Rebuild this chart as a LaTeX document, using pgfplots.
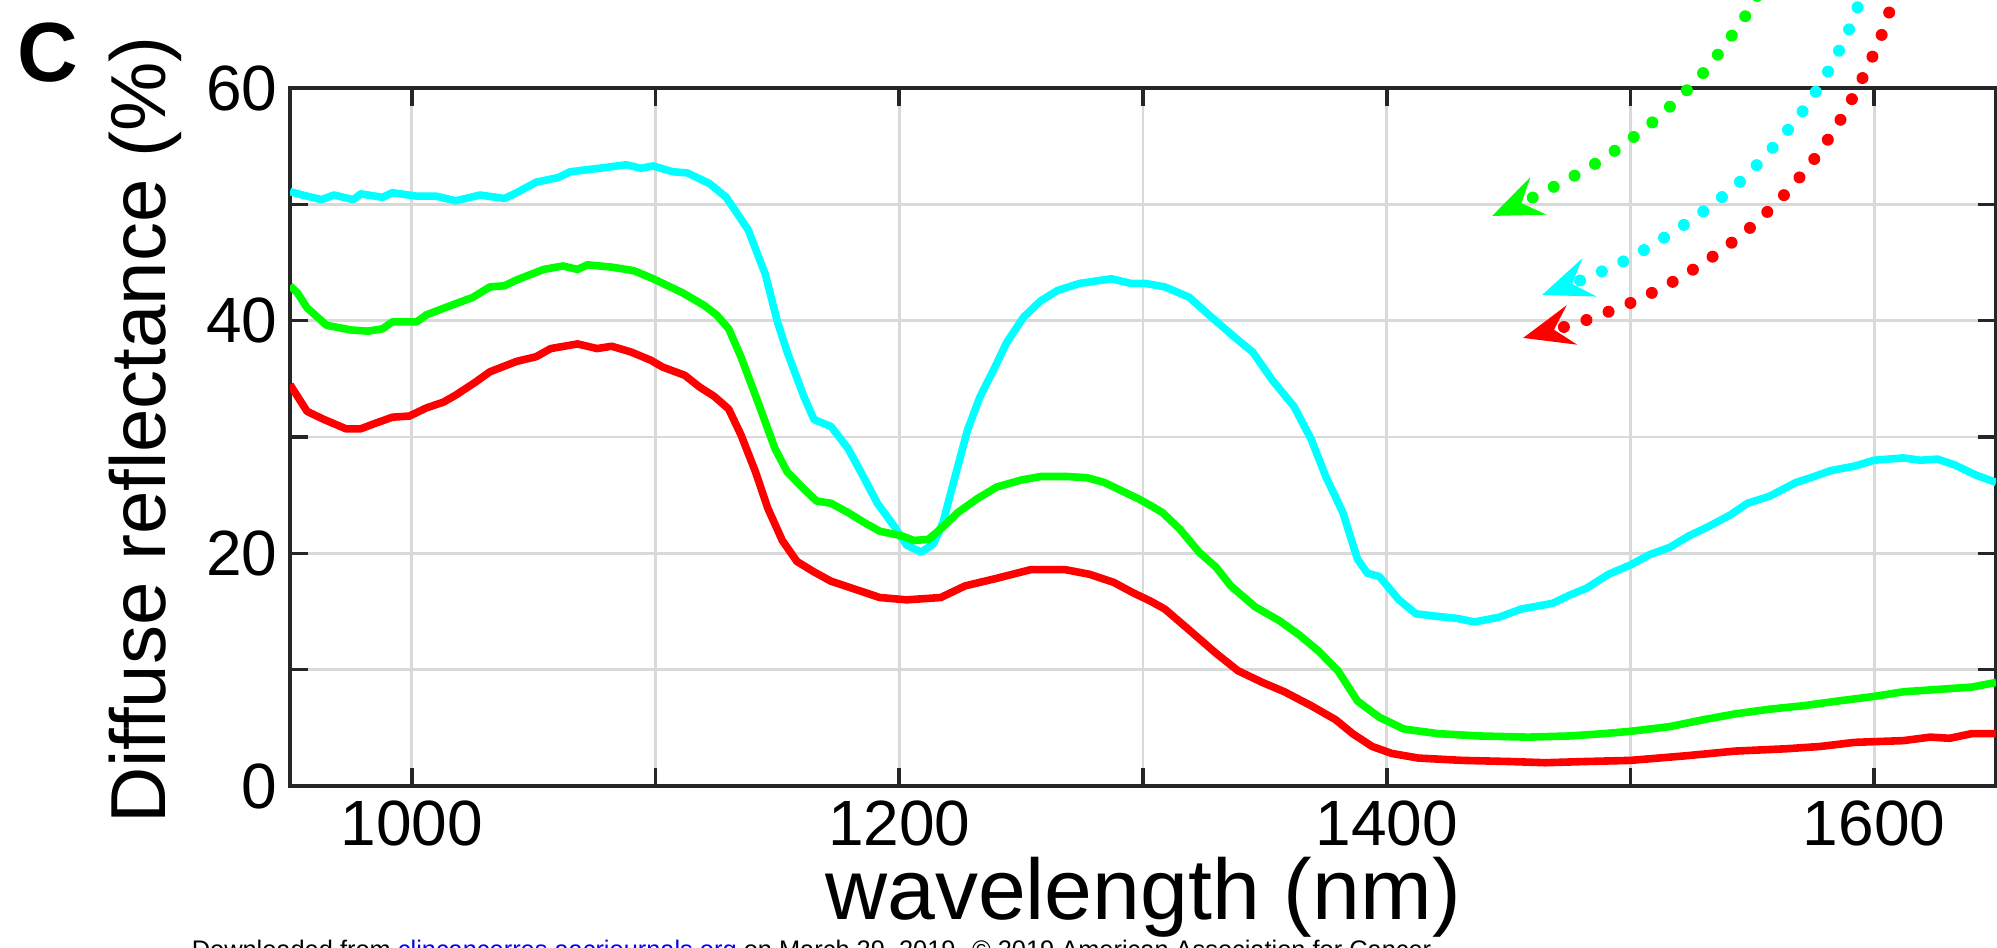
\documentclass[border=0pt]{standalone}
\usepackage{fontspec}
\setmainfont{Liberation Sans}
\usepackage{pgfplots}
\pgfplotsset{compat=1.18}
\usetikzlibrary{arrows.meta}
\definecolor{mcyan}{RGB}{0,255,255}
\definecolor{mgreen}{RGB}{0,255,0}
\definecolor{mred}{RGB}{255,0,0}
\definecolor{mblue}{RGB}{0,0,255}

\begin{document}
\begin{tikzpicture}
\useasboundingbox (-72.5pt,-40.5pt) rectangle (426.75pt,196.5pt);
\clip (-72.5pt,-40.5pt) rectangle (426.75pt,196.5pt);

% source line at the very bottom, cut by the page edge
\node[anchor=base west, inner sep=0pt, font=\fontsize{6.35}{6.35}\selectfont]
  at (-24.75pt,-43.25pt) {Downloaded from \textcolor{mblue}{clincancerres.aacrjournals.org} on March 29, 2019. © 2019 American Association for Cancer};

\begin{axis}[
    at={(0,0)}, anchor=south west,
    scale only axis,
    width=426.5pt, height=174.5pt,
    xmin=950, xmax=1650,
    ymin=0, ymax=60,
    xtick={1000,1100,...,1600},
    xticklabels={1000,,1200,,1400,,1600},
    ytick={0,10,...,60},
    yticklabels={0,,20,,40,,60},
    grid=major,
    major grid style={line width=0.7pt, color=black!15},
    axis line style={line width=0.8pt, color=black!85},
    major tick style={line width=0.9pt, color=black!85},
    major tick length=4.6pt,
    tick label style={font=\fontsize{16}{16}\selectfont},
    xticklabel style={inner sep=0pt, anchor=north, yshift=-3.5pt},
    yticklabel style={inner sep=0pt, anchor=east, xshift=-3pt},
    xlabel={wavelength (nm)},
    ylabel={Diffuse reflectance (\%)},
    xlabel style={at={(axis description cs:0.5,0)}, anchor=base, yshift=-33.5pt,
        inner sep=0pt, font=\fontsize{21.5}{21.5}\selectfont},
    ylabel style={at={(axis description cs:-0.0727,0.51)}, anchor=base,
        inner sep=0pt, font=\fontsize{19.5}{19.5}\selectfont},
    every axis plot/.append style={line width=1.9pt, line join=round},
]

% cyan
\addplot[color=mcyan] coordinates {
(950,51.1) (955,50.8) (963,50.4) (968,50.8) (976,50.4) (979,50.9) (988,50.6)
(992,51.0) (1002,50.7) (1010,50.7) (1018,50.3) (1028,50.8) (1038,50.5) (1043,51.0)
(1051,51.9) (1060,52.3) (1065,52.8) (1077,53.1) (1088,53.4) (1094,53.1) (1099,53.3)
(1107,52.8) (1113,52.7) (1122,51.8) (1129,50.6) (1138,47.8) (1145,44.0) (1150,39.9)
(1154,37.3) (1161,33.4) (1165,31.5) (1172,30.9) (1179,29.0) (1186,26.3) (1191,24.3)
(1198,22.3) (1203,20.7) (1209,20.1) (1214,20.8) (1218,22.7) (1222,25.9) (1228,30.6)
(1233,33.4) (1239,35.9) (1244,38.1) (1251,40.3) (1258,41.7) (1265,42.6) (1274,43.2)
(1287,43.6) (1295,43.2) (1301,43.2) (1309,42.9) (1319,42.0) (1327,40.5) (1338,38.5)
(1345,37.3) (1353,34.9) (1362,32.6) (1369,29.8) (1375,26.6) (1382,23.5) (1388,19.5)
(1392,18.3) (1397,18.0) (1405,16.0) (1412,14.8) (1420,14.6) (1429,14.4) (1436,14.1)
(1446,14.5) (1455,15.2) (1468,15.7) (1475,16.4) (1482,17.0) (1491,18.2) (1500,19.0)
(1508,19.9) (1516,20.5) (1524,21.5) (1532,22.3) (1541,23.3) (1548,24.3) (1557,24.9)
(1568,26.1) (1574,26.5) (1582,27.1) (1592,27.5) (1600,28.0) (1612,28.2) (1619,28.0)
(1626,28.1) (1633,27.6) (1642,26.7) (1650,26.1)
};

% green
\addplot[color=mgreen] coordinates {
(950,43.0) (953,42.4) (957,41.1) (965,39.6) (975,39.2) (982,39.1) (988,39.3)
(992,39.9) (1002,39.9) (1006,40.5) (1016,41.3) (1025,42.0) (1032,42.9) (1038,43.0)
(1043,43.5) (1054,44.4) (1062,44.7) (1068,44.4) (1072,44.8) (1082,44.6) (1091,44.3)
(1099,43.6) (1111,42.4) (1120,41.3) (1125,40.5) (1130,39.3) (1135,36.9) (1142,33.0)
(1149,29.0) (1154,27.0) (1161,25.5) (1166,24.5) (1172,24.3) (1179,23.5) (1186,22.6)
(1192,21.9) (1201,21.5) (1206,21.1) (1212,21.2) (1217,22.1) (1224,23.5) (1232,24.7)
(1240,25.7) (1250,26.3) (1258,26.6) (1269,26.6) (1277,26.5) (1284,26.1) (1292,25.3)
(1298,24.7) (1304,24.0) (1308,23.5) (1315,22.1) (1323,20.1) (1330,18.8) (1336,17.2)
(1346,15.4) (1356,14.2) (1364,13.0) (1372,11.6) (1380,9.9) (1388,7.3) (1397,5.9)
(1407,4.9) (1421,4.5) (1438,4.3) (1458,4.2) (1475,4.3) (1489,4.5) (1500,4.7)
(1516,5.1) (1530,5.7) (1543,6.2) (1557,6.6) (1571,6.9) (1585,7.3) (1600,7.7)
(1612,8.1) (1626,8.3) (1640,8.5) (1650,8.9)
};

% red
\addplot[color=mred] coordinates {
(950,34.5) (957,32.2) (964,31.5) (973,30.7) (979,30.7) (984,31.1) (992,31.7)
(999,31.8) (1006,32.5) (1013,33.0) (1018,33.6) (1026,34.7) (1032,35.6) (1043,36.5)
(1051,36.9) (1057,37.6) (1068,38.0) (1076,37.6) (1082,37.8) (1090,37.3) (1098,36.6)
(1103,36.0) (1112,35.3) (1118,34.3) (1124,33.5) (1130,32.4) (1135,30.2) (1141,27.0)
(1146,23.9) (1152,21.1) (1158,19.3) (1165,18.4) (1172,17.6) (1182,16.9) (1192,16.2)
(1203,16.0) (1217,16.2) (1227,17.2) (1239,17.8) (1254,18.6) (1268,18.6) (1278,18.2)
(1288,17.5) (1296,16.6) (1303,15.9) (1309,15.2) (1319,13.4) (1330,11.4) (1339,9.9)
(1349,8.9) (1358,8.1) (1369,6.9) (1379,5.7) (1386,4.5) (1394,3.4) (1402,2.8)
(1413,2.4) (1431,2.2) (1451,2.1) (1465,2.0) (1481,2.1) (1500,2.2) (1523,2.6)
(1543,3.0) (1564,3.2) (1578,3.4) (1592,3.75) (1612,3.9) (1623,4.2) (1631,4.1)
(1640,4.5) (1650,4.5)
};
\end{axis}

% panel letter
\node[anchor=base, inner sep=0pt, font=\fontsize{21}{21}\selectfont\bfseries]
  at (-60.6pt,176pt) {C};

% dotted arrows in the upper right (coordinates in pt)
\tikzset{dotarrow/.style={x=1pt, y=1pt, line width=3pt, line cap=round,
    dash pattern=on 0pt off 5.9pt,
    -{Stealth[length=12.5pt, width=10pt, inset=4.5pt]}}}
\draw[dotarrow, mgreen] plot[smooth] coordinates {
  (369.5,202.75) (364,192.75) (353.5,178.5) (341,166.25) (327,156) (312,147.75) (300.5,142.5)};
\draw[dotarrow, mcyan] plot[smooth] coordinates {
  (393.75,200.25) (390.25,190.25) (385,179.5) (378.75,169.5) (371.5,160.5) (363.25,151.75)
  (354.5,144.5) (345,138) (335,132) (324.75,127.25) (313,122.75)};
\draw[dotarrow, mred] plot[smooth] coordinates {
  (401.5,199) (398,188) (393.25,177.25) (387.75,166.75) (381.25,157) (373.75,148)
  (365.25,139.75) (356.25,132.75) (346.5,126.5) (336.25,121.25) (325.5,117) (320.25,115.25)
  (308.25,112)};
\end{tikzpicture}
\end{document}
